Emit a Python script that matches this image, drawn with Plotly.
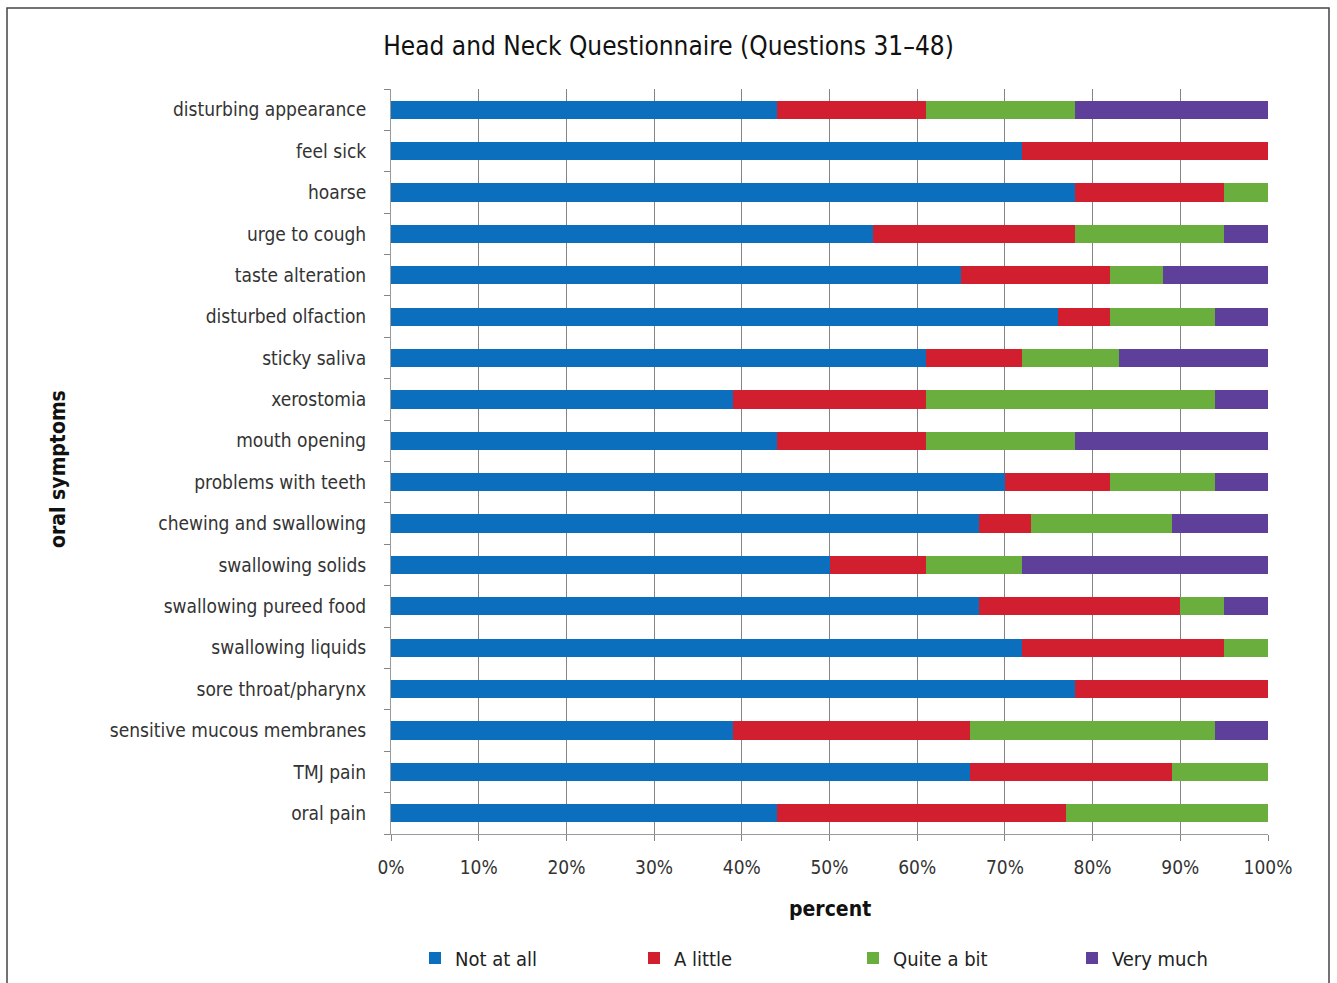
import plotly.graph_objects as go

categories = [
    "oral pain", "TMJ pain", "sensitive mucous membranes", "sore throat/pharynx",
    "swallowing liquids", "swallowing pureed food", "swallowing solids",
    "chewing and swallowing", "problems with teeth", "mouth opening", "xerostomia",
    "sticky saliva", "disturbed olfaction", "taste alteration", "urge to cough",
    "hoarse", "feel sick", "disturbing appearance",
]
not_at_all = [44, 66, 39, 78, 72, 67, 50, 67, 70, 44, 39, 61, 76, 65, 55, 78, 72, 44]
a_little   = [33, 23, 27, 22, 23, 23, 11, 6, 12, 17, 22, 11, 6, 17, 23, 17, 28, 17]
quite_bit  = [23, 11, 28, 0, 5, 5, 11, 16, 12, 17, 33, 11, 12, 6, 17, 5, 0, 17]
very_much  = [0, 0, 6, 0, 0, 5, 28, 11, 6, 22, 6, 17, 6, 12, 5, 0, 0, 22]

series = [
    ("Not at all", not_at_all, "#0b6fbd"),
    ("A little", a_little, "#d21f2f"),
    ("Quite a bit", quite_bit, "#6aae3e"),
    ("Very much", very_much, "#5e3f9a"),
]

FONT = "DejaVu Sans Condensed, Liberation Sans Narrow, sans-serif"

fig = go.Figure()
for name, vals, col in series:
    fig.add_trace(go.Bar(
        y=categories, x=vals, name=name, orientation="h",
        marker=dict(color=col, line=dict(width=0)),
    ))

L, R, T, B = 391, 1268, 89, 834
W, H = 1337, 983
pw, ph = R - L, B - T

def px2x(p):
    return (p - L) / pw

def py2y(p):
    return (B - p) / ph

fig.update_layout(
    width=W, height=H,
    barmode="stack", bargap=0.56,
    margin=dict(l=L, r=W - R, t=T, b=H - B, pad=0, autoexpand=False),
    paper_bgcolor="white", plot_bgcolor="white",
    font=dict(family=FONT, size=19, color="#222"),
    title=dict(text="Head and Neck Questionnaire (Questions 31–48)",
               x=0.5, xref="container", y=1 - 46 / H, yref="container",
               xanchor="center", yanchor="middle",
               font=dict(family=FONT, size=26, color="#111")),
    showlegend=True,
    legend=dict(orientation="h", x=415 / W, xref="container", y=1 - 958 / H, yref="container",
                xanchor="left", yanchor="middle",
                entrywidth=174, entrywidthmode="pixels",
                font=dict(family=FONT, size=20, color="#222"),
                traceorder="normal", itemclick=False),
    xaxis=dict(range=[0, 100], tickvals=list(range(0, 101, 10)),
               ticktext=[f"{v}%" for v in range(0, 101, 10)],
               showgrid=True, gridcolor="#858585", gridwidth=1,
               zeroline=False, showline=True, linecolor="#9a9a9a",
               ticks="outside", ticklen=6, tickcolor="#858585",
               tickfont=dict(family=FONT, size=19, color="#333"),
               ticklabelstandoff=10, automargin=False),
    yaxis=dict(range=[-0.5, 17.5], showgrid=False, showline=True, linecolor="#9a9a9a",
               ticks="outside", tickson="boundaries", ticklen=6, tickcolor="#858585",
               tickfont=dict(family=FONT, size=19, color="#333"),
               ticklabelstandoff=20, automargin=False),
    annotations=[
        dict(text="<b>percent</b>", x=0.5, y=py2y(909), xref="paper", yref="paper",
             showarrow=False, xanchor="center", yanchor="middle",
             font=dict(family=FONT, size=21, color="#111")),
        dict(text="<b>oral symptoms</b>", x=px2x(58), y=py2y(469), xref="paper", yref="paper",
             showarrow=False, xanchor="center", yanchor="middle", textangle=-90,
             font=dict(family=FONT, size=21, color="#111")),
    ],
    shapes=[
        dict(type="rect", xref="paper", yref="paper",
             x0=px2x(7), x1=px2x(1329), y0=py2y(1000), y1=py2y(8),
             line=dict(color="#444", width=1.5), fillcolor="rgba(0,0,0,0)", layer="below"),
    ],
)

fig.write_html("out.html")
